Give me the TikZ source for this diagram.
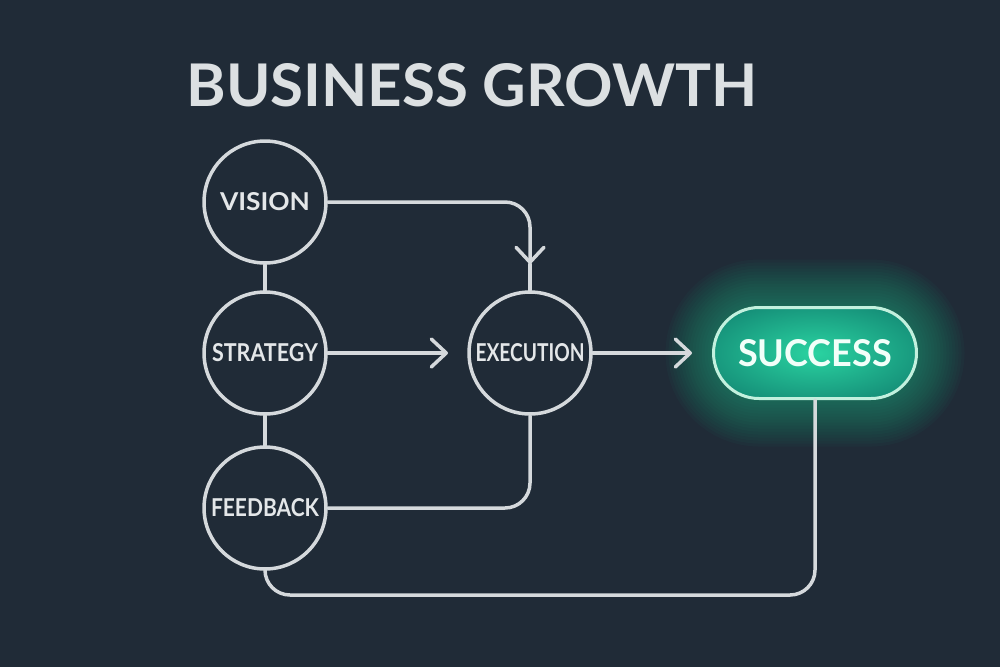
\documentclass[tikz,border=0pt]{standalone}
\usepackage{fontspec}
\setmainfont{Lato}
\usetikzlibrary{arrows.meta,shapes.misc}

\definecolor{bgc}{HTML}{202B37}
\definecolor{linec}{HTML}{D5D9DC}
\definecolor{labc}{HTML}{E4E7E9}
\definecolor{titlec}{HTML}{DCE0E2}
\definecolor{glowc}{HTML}{1BB386}
\definecolor{pilla}{HTML}{2AD3A1}
\definecolor{pillb}{HTML}{16927A}
\definecolor{pillc}{HTML}{0F5E53}
\definecolor{pillline}{HTML}{C2F0DE}
\definecolor{succc}{HTML}{F2FFF9}

\pgfdeclareradialshading{pillshade}{\pgfpoint{0bp}{0bp}}{color(0bp)=(pilla); color(28bp)=(pillb); color(50bp)=(pillc)}

\newcommand{\fitlbl}[2]{\resizebox{#1}{0.36cm}{#2}}

\begin{document}
\begin{tikzpicture}[x=0.02cm, y=-0.02cm,
    stage/.style={shape=circle, draw=linec, line width=0.07cm, minimum size=2.44cm, inner sep=0pt, text=labc, font=\bfseries},
    goal/.style={shape=rounded rectangle, draw=pillline, line width=0.06cm, minimum width=4.06cm, minimum height=1.82cm, inner sep=0pt, shading=pillshade, text=succc, font=\bfseries},
    wire/.style={draw=linec, line width=0.07cm, line cap=round, rounded corners=0.5cm},
    barb/.style={-{Straight Barb[length=0.3cm, width=0.56cm, line cap=round, line join=round]}}]

            \fill[bgc] (0,0) rectangle (1000,667);
            \useasboundingbox (0,0) rectangle (1000,667);

            % glow behind the goal
            \foreach \w in {1.9,1.78,...,0.1}
                \draw[glowc, opacity=0.04, line width=\w cm, rounded corners=0.92cm] (713,307) rectangle (917,399);

            \node[font=\bfseries, text=titlec] (T1) at (472,85) {\resizebox{11.42cm}{0.86cm}{BUSINESS GROWTH}};

            \node[stage] (B1) at (265,202) {\fitlbl{1.8cm}{VISION}};
            \node[stage] (B2) at (265,353) {\fitlbl{2.12cm}{STRATEGY}};
            \node[stage] (B3) at (265,508) {\fitlbl{2.16cm}{FEEDBACK}};
            \node[stage] (B4) at (530,353) {\fitlbl{2.18cm}{EXECUTION}};
            \node[goal] (B5) at (815,353) {\resizebox{3.08cm}{0.54cm}{SUCCESS}};

            \coordinate (P1) at (448,353);
            \coordinate (P2) at (692,353);
            \coordinate (P3) at (530,264);
            \coordinate (C1) at (265,595);
            \coordinate (C2) at (815,595);

            \draw[wire] (B1) -- (B2) -- (B3);
            \draw[wire, barb] (B1) -| (P3);
            \draw[wire] (P3) -- (B4);
            \draw[wire, barb] (B2) -- (P1);
            \draw[wire, barb] (B4) -- (P2);
            \draw[wire] (B4) |- (B3);
            \draw[wire] (B3) -- (C1) -- (C2) -- (B5);

\end{tikzpicture}
\end{document}
